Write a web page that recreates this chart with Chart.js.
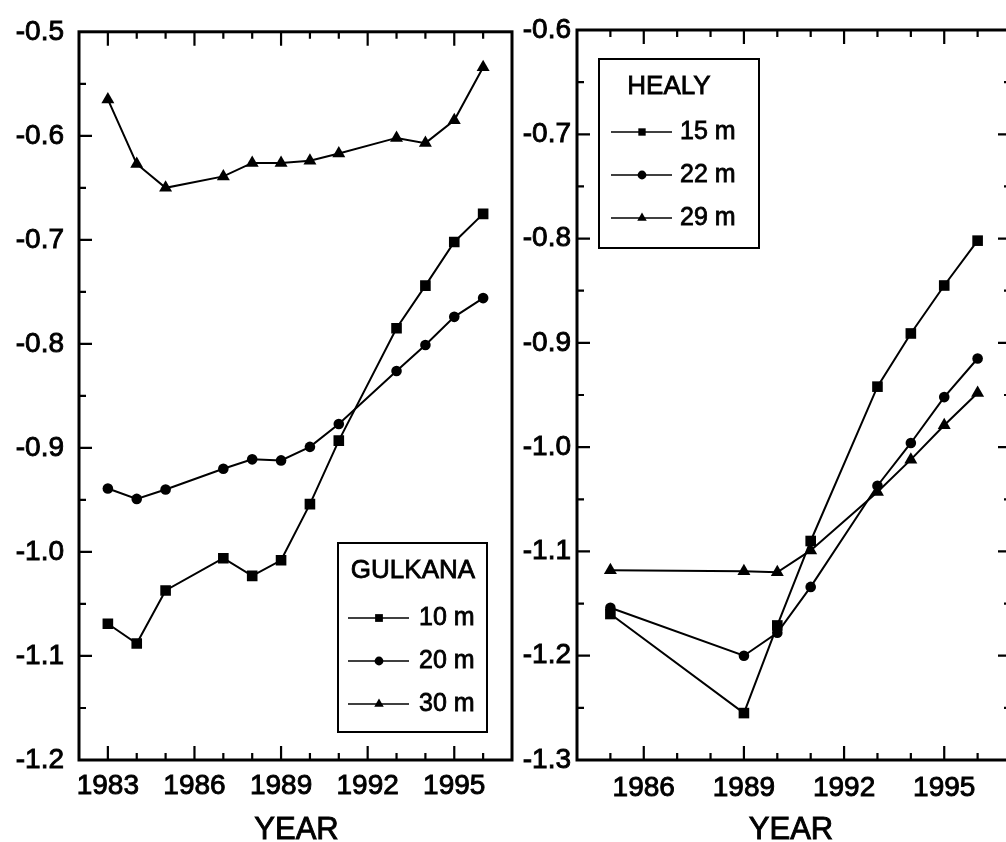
<!DOCTYPE html>
<html>
<head>
<meta charset="utf-8">
<script src="https://cdn.jsdelivr.net/npm/chart.js@4.4.0/dist/chart.umd.min.js"></script>
<style>
  html, body { margin: 0; padding: 0; background: #fff; overflow: hidden; width: 1006px; height: 842px; }
  #left { position: absolute; left: 0; top: 0; }
  #right { position: absolute; left: 500px; top: 0; }
</style>
</head>
<body>
<canvas id="left" width="540" height="842"></canvas>
<canvas id="right" width="540" height="842"></canvas>
<script>
// données
const gulkanaYears = [1983, 1984, 1985, 1987, 1988, 1989, 1990, 1991, 1993, 1994, 1995, 1996];
const gulkana10 = [-1.069, -1.088, -1.037, -1.006, -1.023, -1.008, -0.954, -0.893, -0.785, -0.744, -0.702, -0.675];
const gulkana20 = [-0.939, -0.949, -0.940, -0.920, -0.911, -0.912, -0.899, -0.877, -0.826, -0.801, -0.774, -0.756];
const gulkana30 = [-0.565, -0.627, -0.650, -0.639, -0.626, -0.626, -0.624, -0.617, -0.602, -0.607, -0.585, -0.534];

const healyYears = [1985, 1989, 1990, 1991, 1993, 1994, 1995, 1996];
const healy15 = [-1.160, -1.255, -1.171, -1.090, -0.942, -0.891, -0.845, -0.802];
const healy22 = [-1.154, -1.200, -1.178, -1.134, -1.037, -0.996, -0.952, -0.915];
const healy29 = [-1.118, -1.119, -1.120, -1.099, -1.043, -1.012, -0.979, -0.948];

const gulkanaLabels = ['10 m', '20 m', '30 m'];
const healyLabels = ['15 m', '22 m', '29 m'];

const FONT = '"Liberation Sans", Arial, Helvetica, sans-serif';

function points(years, values) {
    return years.map((yr, i) => ({ x: yr, y: values[i] }));
}

function makeDataset(label, years, values, style, radius, legendRadius) {
    return {
        label: label,
        data: points(years, values),
        borderColor: '#000',
        borderWidth: 2,
        pointStyle: style,
        pointRadius: radius,
        pointBackgroundColor: '#000',
        pointBorderColor: '#000',
        pointBorderWidth: 0,
        legendRadius: legendRadius,
        tension: 0,
        fill: false
    };
}

// cadre + graduations intérieures + titre de l'axe x
const frameTicks = {
    id: 'frameTicks',
    afterDatasetsDraw(chart, args, opts) {
        const { ctx, chartArea: a } = chart;
        const x = chart.scales.x, y = chart.scales.y;
        ctx.save();
        ctx.strokeStyle = '#000';
        ctx.lineWidth = 2.2;
        ctx.beginPath();
        x.ticks.forEach(t => {
            if (t.value <= x.min || t.value >= x.max) return;
            const px = x.getPixelForValue(t.value);
            const len = t.label !== '' ? 14 : 7;
            ctx.moveTo(px, a.bottom); ctx.lineTo(px, a.bottom - len);
            ctx.moveTo(px, a.top); ctx.lineTo(px, a.top + len);
        });
        y.ticks.forEach(t => {
            if (t.value <= y.min + 1e-9 || t.value >= y.max - 1e-9) return;
            const py = y.getPixelForValue(t.value);
            const len = t.label !== '' ? 13 : 7;
            ctx.moveTo(a.left, py); ctx.lineTo(a.left + len, py);
            if (opts.rightTicks) {
                ctx.moveTo(a.right, py); ctx.lineTo(a.right - len, py);
            }
        });
        ctx.stroke();
        ctx.lineWidth = 3;
        ctx.strokeRect(a.left, a.top, a.right - a.left, a.bottom - a.top);

        // YEAR
        ctx.fillStyle = '#000';
        ctx.font = '31px ' + FONT;
        ctx.textAlign = 'center';
        ctx.textBaseline = 'middle';
        ctx.lineWidth = 0.9;
        const tx = (a.left + a.right) / 2 + opts.titleShift;
        ctx.fillText(opts.title, tx, opts.titleY);
        ctx.strokeText(opts.title, tx, opts.titleY);
        ctx.restore();
    }
};

// légende encadrée : trait - symbole - trait
const boxLegend = {
    id: 'boxLegend',
    afterDraw(chart, args, o) {
        const ctx = chart.ctx;
        ctx.save();
        ctx.strokeStyle = '#000';
        ctx.fillStyle = '#000';
        ctx.lineWidth = 2;
        ctx.strokeRect(o.left, o.top, o.width, o.height);
        ctx.textBaseline = 'middle';
        ctx.textAlign = 'center';
        ctx.font = '26px ' + FONT;
        ctx.lineWidth = 0.8;
        ctx.fillText(o.title, o.titleX, o.top + 28);
        ctx.strokeText(o.title, o.titleX, o.top + 28);
        ctx.font = '25px ' + FONT;
        chart.data.datasets.forEach((ds, i) => {
            const yy = o.top + o.rowTop + i * o.rowGap;
            ctx.lineWidth = 1.3;
            ctx.beginPath();
            ctx.moveTo(o.left + o.lineFrom, yy);
            ctx.lineTo(o.left + o.lineTo, yy);
            ctx.stroke();
            Chart.helpers.drawPoint(ctx, { pointStyle: ds.pointStyle, radius: ds.legendRadius, rotation: 0, borderWidth: 0 },
                o.left + o.markX, yy);
            ctx.textAlign = 'left';
            ctx.lineWidth = 0.8;
            ctx.fillText(ds.label, o.left + o.textX, yy);
            ctx.strokeText(ds.label, o.left + o.textX, yy);
        });
        ctx.restore();
    }
};

function makeChart(id, datasets, cfg) {
    return new Chart(document.getElementById(id), {
        type: 'line',
        data: { datasets: datasets },
        options: {
            responsive: false,
            animation: false,
            events: [],
            layout: { padding: { left: 0, top: 30, right: cfg.padRight, bottom: 0 } },
            scales: {
                x: {
                    type: 'linear',
                    min: cfg.xMin, max: cfg.xMax,
                    grid: { display: false, drawTicks: false },
                    border: { display: false },
                    afterFit: s => { s.height = 82; },
                    ticks: {
                        stepSize: 1, maxTicksLimit: 100, autoSkip: false, maxRotation: 0,
                        padding: cfg.xPad, color: '#000',
                        textStrokeColor: '#000', textStrokeWidth: 0.9,
                        font: { family: FONT, size: 28 },
                        callback: v => ((v - 1983) % 3 === 0 ? String(v) : '')
                    }
                },
                y: {
                    min: cfg.yMin, max: cfg.yMax,
                    grid: { display: false, drawTicks: false },
                    border: { display: false },
                    afterFit: s => { s.width = cfg.yWidth; },
                    ticks: {
                        stepSize: 0.05, maxTicksLimit: 100, autoSkip: false,
                        padding: cfg.yPad, color: '#000',
                        textStrokeColor: '#000', textStrokeWidth: 0.9,
                        font: { family: FONT, size: 28 },
                        callback: v => (Math.abs(v * 10 - Math.round(v * 10)) < 1e-6 ? v.toFixed(1) : '')
                    }
                }
            },
            plugins: {
                legend: { display: false },
                tooltip: { enabled: false },
                frameTicks: { rightTicks: cfg.rightTicks, title: 'YEAR', titleY: 830, titleShift: cfg.titleShift },
                boxLegend: cfg.legend
            }
        },
        plugins: [frameTicks, boxLegend]
    });
}

makeChart('left', [
    makeDataset(gulkanaLabels[0], gulkanaYears, gulkana10, 'rect', 7.5, 5.5),
    makeDataset(gulkanaLabels[1], gulkanaYears, gulkana20, 'circle', 5.3, 4.4),
    makeDataset(gulkanaLabels[2], gulkanaYears, gulkana30, 'triangle', 7.5, 5.5)
], {
    xMin: 1982, xMax: 1997, yMin: -1.2, yMax: -0.5,
    padRight: 28, yWidth: 79, yPad: 15, xPad: 9, rightTicks: false, titleShift: 1,
    legend: { left: 338, top: 543, width: 149, height: 189, title: 'GULKANA', titleX: 413,
              rowTop: 75, rowGap: 43, lineFrom: 10, lineTo: 71, markX: 41, textX: 81 }
});

makeChart('right', [
    makeDataset(healyLabels[0], healyYears, healy15, 'rect', 7.5, 5.2),
    makeDataset(healyLabels[1], healyYears, healy22, 'circle', 5.3, 4.4),
    makeDataset(healyLabels[2], healyYears, healy29, 'triangle', 7.5, 5.5)
], {
    xMin: 1984, xMax: 1997, yMin: -1.3, yMax: -0.6,
    padRight: 29, yWidth: 77, yPad: 6, xPad: 11, rightTicks: true, titleShift: -3,
    legend: { left: 99, top: 59, width: 160, height: 189, title: 'HEALY', titleX: 169,
              rowTop: 73, rowGap: 43, lineFrom: 12, lineTo: 73, markX: 43, textX: 81 }
});
</script>
</body>
</html>
